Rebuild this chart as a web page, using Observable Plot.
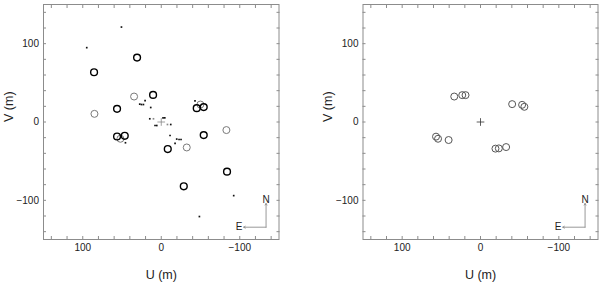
<!DOCTYPE html>
<html>
<head>
<meta charset="utf-8">
<script src="https://cdn.jsdelivr.net/npm/d3@7"></script>
<script src="https://cdn.jsdelivr.net/npm/@observablehq/plot@0.6"></script>
<style>
  html, body { margin: 0; padding: 0; background: white; }
  #wrap { display: flex; width: 600px; height: 282px; }
</style>
</head>
<body>
<div id="wrap"></div>
<script>
// ---- Left panel data (U, V in metres) ----
const blackCircU = [30.8, 85.6, 10.4, 56.3, -45.2, -54.1, 56.3, 46.5, -54.1, -8.3, -28.7, -83.8];
const blackCircV = [82.2, 63.5, 34.6, 16.8, 17.7, 19.0, -18.5, -17.6, -16.7, -34.5, -82.1, -63.4];
const grayCircU = [34.6, 85.1, 52.0, -49.9, -32.5, -83.0];
const grayCircV = [32.5, 10.4, -21.4, 22.3, -32.5, -10.3];
const dotsU = [50.7, 94.9, -92.3, -48.6, 45.6, -43.0, 20.6, 27.4, 25.2, 22.7, 13.4, 14.6, -2.3, -4.5, 7.9, 5.7, -12.1, -11.2, -19.7, -22.7, -25.2, -17.6];
const dotsV = [121.2, 94.9, -94.0, -120.7, -26.5, 27.0, 27.4, 22.8, 22.3, 22.3, 18.5, 4.1, 5.3, 5.3, -4.5, -4.5, -3.2, -17.2, -21.8, -22.3, -22.3, -27.4];
const grayDotsU = [9.9, -7.9];
const grayDotsV = [4.1, -3.2];

// ---- Right panel data ----
const rightU = [33.5, 23.3, 19.1, -40.4, -53.1, -56.0, 56.8, 54.2, 40.7, -19.1, -23.4, -32.7];
const rightV = [32.5, 34.3, 34.3, 22.8, 21.9, 19.4, -18.7, -21.4, -23.0, -34.0, -33.7, -32.0];

// centre marker
const centreU = [0];
const centreV = [0];

// ---- Axes ----
const domainU = [150, -150];
const domainV = [-150, 150];
const minorTicks = [-140, -120, -100, -80, -60, -40, -20, 0, 20, 40, 60, 80, 100, 120, 140];
const labelTicks = [-100, 0, 100];
const xLabel = "U (m)";
const yLabel = "V (m)";

// ---- Compass (N / E) ----
const compassCorner = {u: -133.5, v: -134.3};
const compassN = {u: -133.5, v: -104.0, label: "N", lu: -133.5, lv: -99.5};
const compassE = {u: -105.0, v: -134.3, label: "E", lu: -99.0, lv: -134.3};

const fmt = d => d < 0 ? "\u2212" + Math.abs(d) : String(d);
const toPts = (U, V) => U.map((u, i) => ({u, v: V[i]}));

const FRAME = "#8c8c8c";
const TEXT = "#222";

function axes() {
  return [
    Plot.frame({stroke: FRAME, strokeWidth: 1}),
    Plot.axisX(minorTicks, {anchor: "bottom", tickSize: -3, fill: "none", stroke: FRAME, label: null}),
    Plot.axisX(minorTicks, {anchor: "top", tickSize: -3, fill: "none", stroke: FRAME, label: null}),
    Plot.axisY(minorTicks, {anchor: "left", tickSize: -3, fill: "none", stroke: FRAME, label: null}),
    Plot.axisY(minorTicks, {anchor: "right", tickSize: -3, fill: "none", stroke: FRAME, label: null}),
    Plot.axisX(labelTicks, {anchor: "bottom", tickSize: 0, tickPadding: 4, fill: TEXT, label: null, tickFormat: fmt, fontSize: 10}),
    Plot.axisY(labelTicks, {anchor: "left", tickSize: 0, tickPadding: 4.5, fill: TEXT, label: null, tickFormat: fmt, fontSize: 10}),
    Plot.text([xLabel], {frameAnchor: "bottom", dy: 35, fill: TEXT, fontSize: 12.5, lineAnchor: "middle"}),
    Plot.text([yLabel], {frameAnchor: "left", dx: -35, rotate: -90, fill: TEXT, fontSize: 12.5, lineAnchor: "middle"}),
    Plot.arrow([compassN, compassE], {
      x1: () => compassCorner.u, y1: () => compassCorner.v, x2: "u", y2: "v",
      stroke: FRAME, strokeWidth: 0.9, headLength: 3
    }),
    Plot.text([compassN, compassE], {x: "lu", y: "lv", text: "label", fill: TEXT, fontSize: 10})
  ];
}

function panel(marks, marginLeft, marginRight) {
  return Plot.plot({
    width: 300,
    height: 282,
    marginLeft, marginRight,
    marginTop: 4,
    marginBottom: 43,
    x: {domain: domainU},
    y: {domain: domainV},
    style: {fontFamily: "'Liberation Sans', Arial, Helvetica, sans-serif", fontSize: "10px", background: "white", overflow: "visible"},
    marks: [...axes(), ...marks]
  });
}

const left = panel([
  Plot.dot(toPts(grayCircU, grayCircV), {x: "u", y: "v", r: 3.5, stroke: "#7a7a7a", strokeWidth: 1, fill: "none"}),
  Plot.dot(toPts(blackCircU, blackCircV), {x: "u", y: "v", r: 3.4, stroke: "#000", strokeWidth: 1.4, fill: "none"}),
  Plot.dot(toPts(dotsU, dotsV), {x: "u", y: "v", r: 0.95, symbol: "square", fill: "#111", stroke: "none"}),
  Plot.dot(toPts(grayDotsU, grayDotsV), {x: "u", y: "v", r: 0.95, symbol: "square", fill: "#888", stroke: "none"}),
  Plot.dot(toPts(centreU, centreV), {x: "u", y: "v", symbol: "plus", r: 2.6, stroke: "#888", strokeWidth: 0.8})
], 43, 21.5);

const right = panel([
  Plot.dot(toPts(rightU, rightV), {x: "u", y: "v", r: 3.5, stroke: "#555", strokeWidth: 1, fill: "none"}),
  Plot.dot(toPts(centreU, centreV), {x: "u", y: "v", symbol: "plus", r: 2.6, stroke: "#333", strokeWidth: 0.8})
], 62.5, 2.5);

document.getElementById("wrap").append(left, right);
</script>
</body>
</html>
